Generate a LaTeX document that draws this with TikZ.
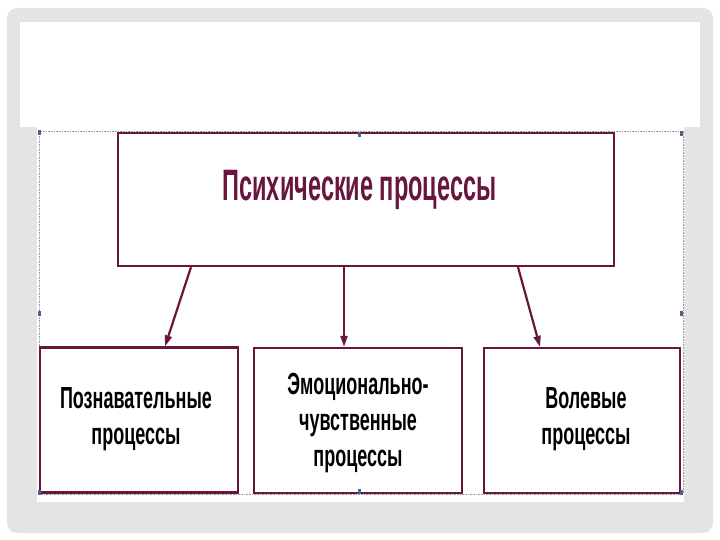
\documentclass[tikz,border=0pt]{standalone}
\usepackage{fontspec}
\setmainfont{Liberation Sans}
\usetikzlibrary{arrows.meta}
\definecolor{maroon}{RGB}{104,22,60}
\definecolor{framegray}{RGB}{228,228,228}
\definecolor{handle}{RGB}{70,100,140}
\newcommand{\cnd}[1]{\scalebox{0.59}[1]{#1}}
\newcommand{\cndt}[1]{\scalebox{0.535}[1]{#1}}
\tikzset{
  box/.style={draw=maroon, line width=2.2pt, fill=white, rectangle, inner sep=0pt},
  lbl/.style={inner sep=0pt, align=center, font=\bfseries\fontsize{30.5}{36}\selectfont, text=black},
  conn/.style={draw=maroon, line width=2.2pt, -{Triangle[length=11pt,width=7pt]}},
  hnd/.style={fill=handle, draw=none, minimum width=3pt, minimum height=5pt, inner sep=0pt}
}
\begin{document}
\begin{tikzpicture}[x=1pt,y=-1pt]
\useasboundingbox (0,0) rectangle (720,540);
\fill[white] (0,0) rectangle (720,540);
\fill[framegray, rounded corners=10pt] (7,8) rectangle (713,533);
\fill[white] (20,22) rectangle (700,127);
\fill[white] (37,127) rectangle (684,502);
\draw[gray!80, densely dotted, line width=0.6pt] (39,131) rectangle (683,494);
% boxes
\node[box, minimum width=496pt, minimum height=133pt] (top) at (366,199.5) {};
\node[box, minimum width=198pt, minimum height=145pt] (left) at (139,420) {};
\node[box, minimum width=208pt, minimum height=145pt] (mid) at (358,420.5) {};
\node[box, minimum width=196pt, minimum height=145pt] (right) at (582,420.5) {};
% texts
\node[inner sep=0pt, font=\bfseries\fontsize{44}{50}\selectfont, text=maroon] (ttl) at (359.5,190) {\cndt{Психические процессы}};
\node[lbl] (ltxt) at (136,419) {\cnd{Познавательные}\\\cnd{процессы}};
\node[lbl] (mtxt) at (358,423) {\cnd{Эмоционально-}\\\cnd{чувственные}\\\cnd{процессы}};
\node[lbl] (rtxt) at (586,419) {\cnd{Волевые}\\\cnd{процессы}};
% connectors
\draw[conn] ([xshift=-175pt]top.south) -- ([xshift=26pt]left.north);
\draw[conn] ([xshift=-22pt]top.south) -- ([xshift=-14pt]mid.north);
\draw[conn] ([xshift=152pt]top.south) -- ([xshift=-42pt]right.north);
% selection handles
\node[hnd] (h1) at (39,133) {};
\node[hnd] (h2) at (359,135) {};
\node[hnd] (h3) at (681,134) {};
\node[hnd] (h4) at (39,313) {};
\node[hnd] (h5) at (681,313) {};
\node[hnd] (h6) at (39,492) {};
\node[hnd] (h7) at (359,491) {};
\node[hnd] (h8) at (681,492) {};
\end{tikzpicture}
\end{document}
